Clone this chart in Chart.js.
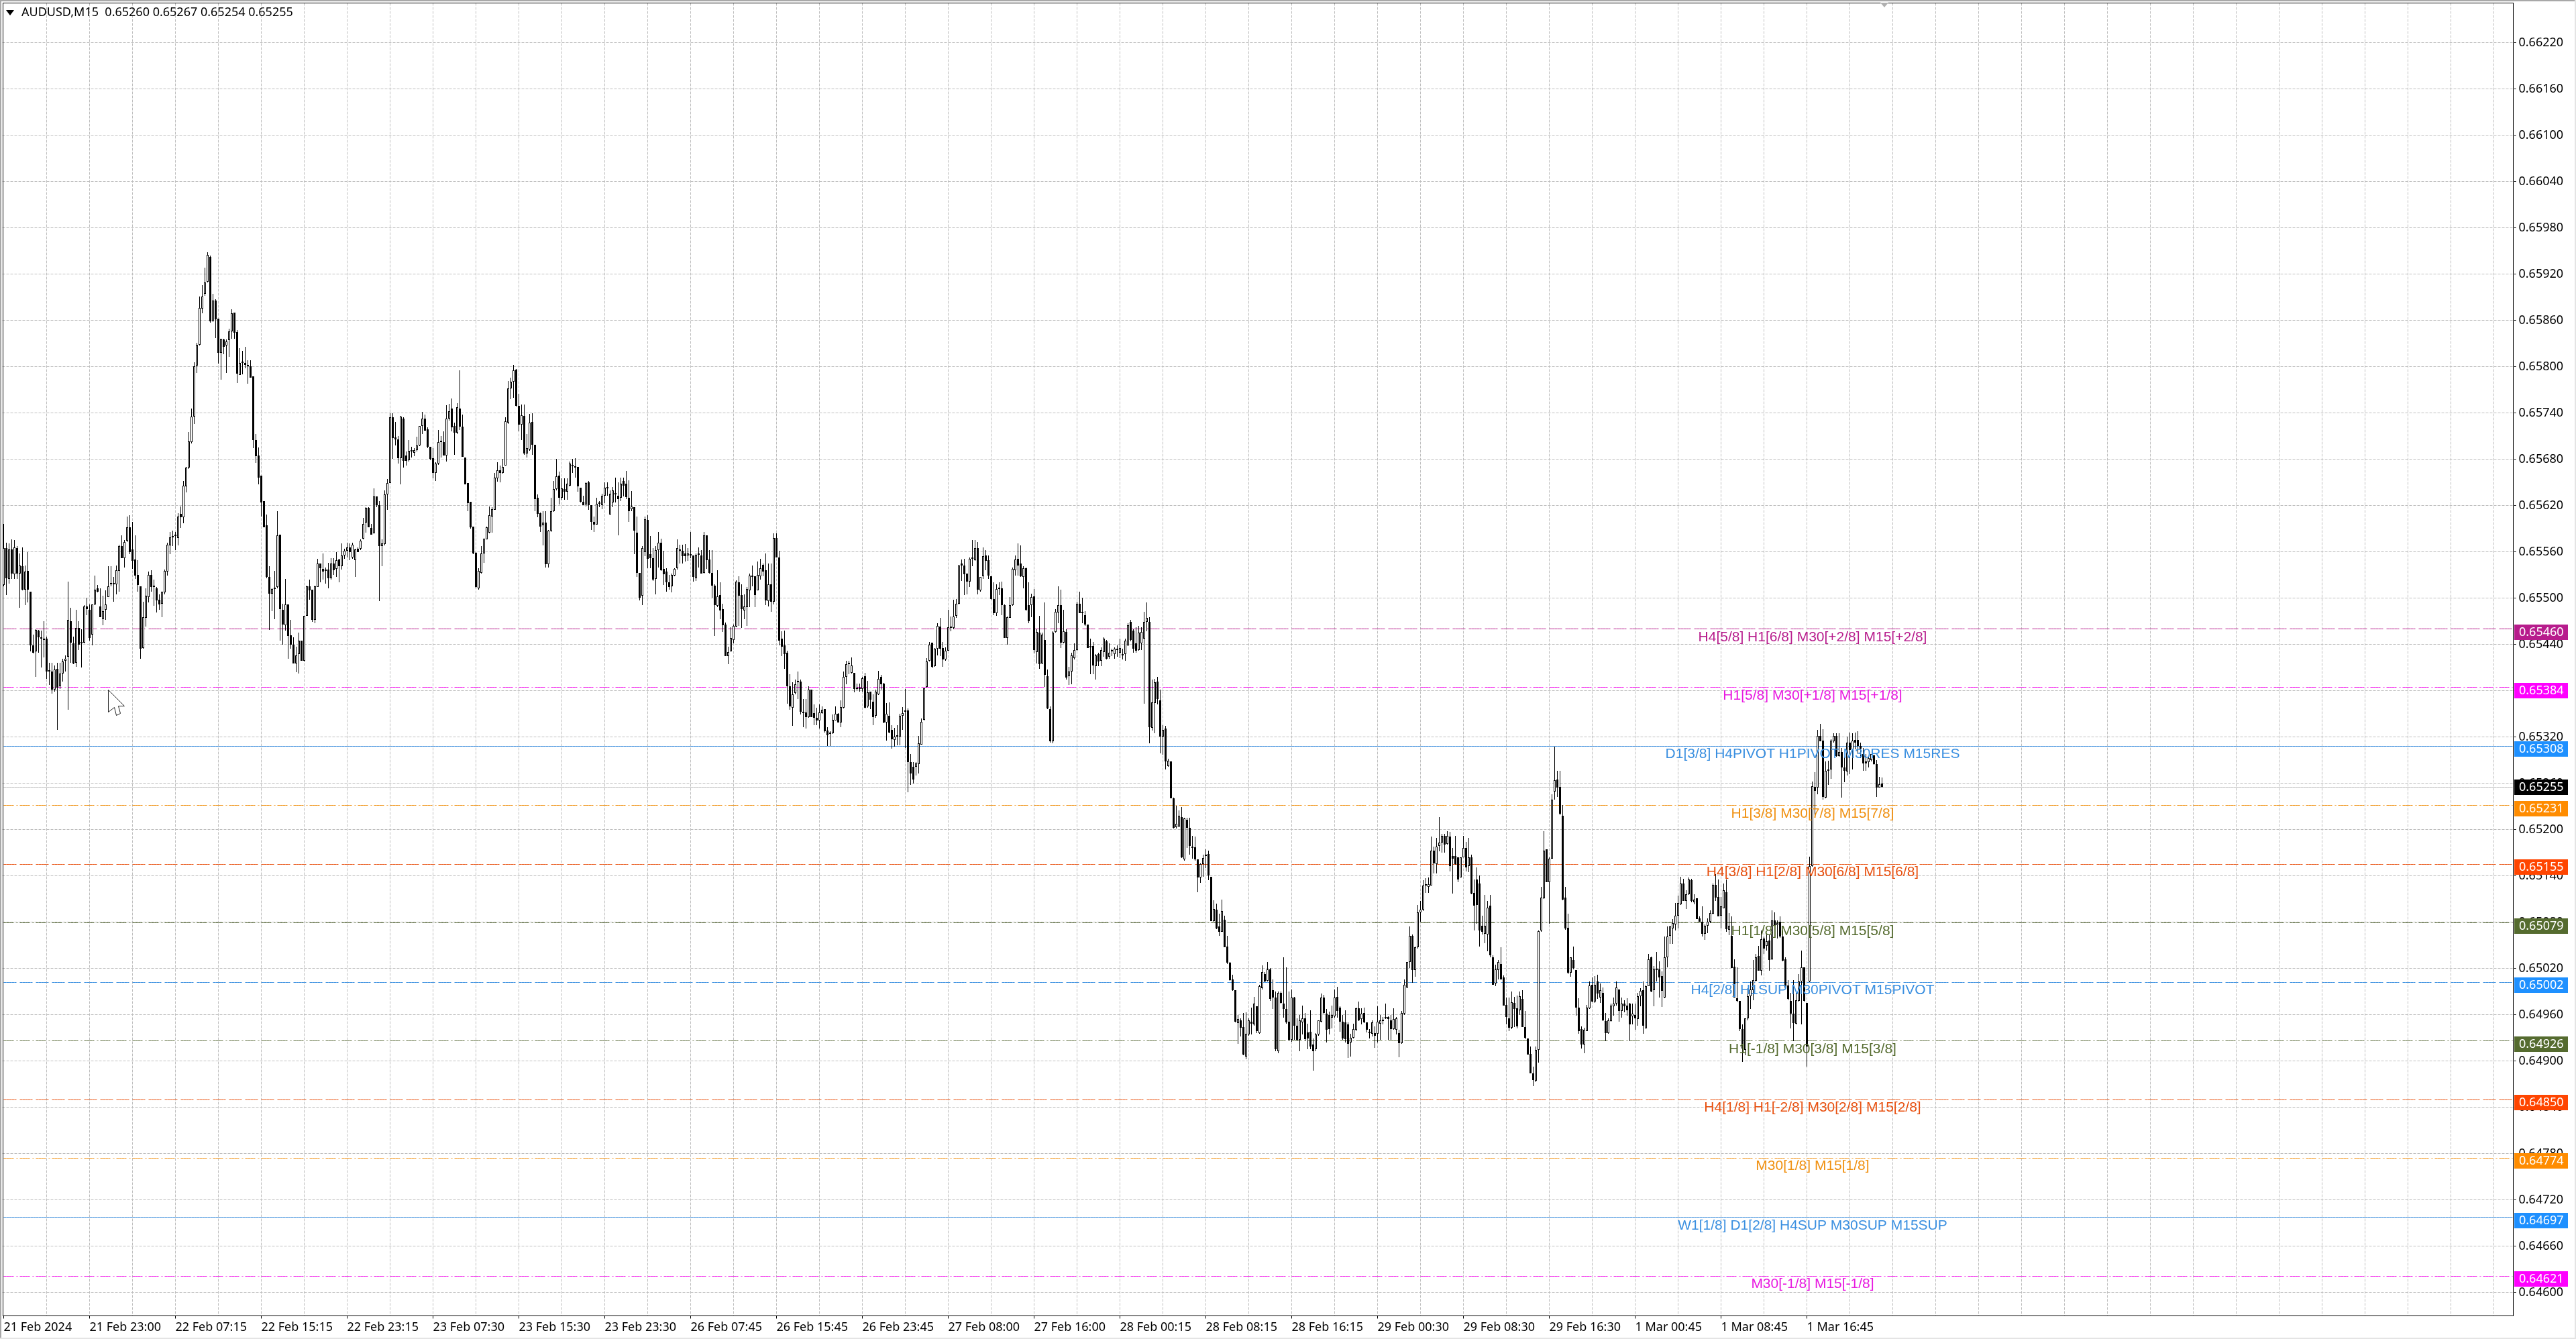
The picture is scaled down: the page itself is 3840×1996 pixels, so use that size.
<!DOCTYPE html>
<html><head><meta charset="utf-8">
<style>html,body{margin:0;padding:0;background:#fff}canvas{display:block}</style>
<script src="https://cdn.jsdelivr.net/npm/chart.js@4/dist/chart.umd.min.js"></script>
</head><body><canvas id="c" width="3840" height="1996" style="width:3840px;height:1996px"></canvas>
<script>
const opens=[65517,65565,65525,65563,65531,65565,65532,65541,65511,65535,
65508,65439,65431,65458,65449,65447,65447,65406,65405,65381,
65408,65386,65402,65419,65424,65470,65441,65416,65461,65442,
65442,65489,65485,65453,65492,65513,65489,65473,65485,65501,
65519,65518,65518,65535,65567,65552,65574,65592,65563,65550,
65530,65515,65435,65474,65501,65530,65515,65513,65498,65493,
65507,65534,65568,65579,65580,65578,65609,65605,65645,65669,
65702,65735,65801,65828,65875,65894,65910,65942,65860,65886,
65862,65818,65835,65827,65834,65846,65870,65845,65789,65805,
65805,65801,65800,65787,65705,65685,65659,65626,65594,65527,
65506,65512,65514,65582,65485,65465,65492,65452,65440,65415,
65427,65445,65419,65477,65515,65511,65472,65514,65545,65538,
65535,65537,65526,65545,65538,65550,65541,65555,65561,65566,
65553,65549,65564,65564,65577,65598,65617,65591,65585,65632,
65620,65567,65570,65634,65649,65734,65708,65706,65681,65733,
65685,65679,65690,65688,65692,65698,65723,65733,65719,65696,
65681,65662,65674,65702,65702,65685,65733,65746,65723,65714,
65746,65722,65682,65649,65625,65593,65559,65513,65533,65558,
65576,65585,65606,65614,65655,65666,65662,65672,65727,65772,
65780,65796,65749,65725,65736,65687,65693,65728,65699,65630,
65610,65594,65598,65544,65587,65613,65641,65659,65630,65641,
65638,65646,65673,65671,65670,65643,65625,65621,65650,65620,
65599,65595,65622,65620,65633,65642,65608,65624,65635,65633,
65630,65652,65648,65630,65615,65618,65585,65533,65503,65560,
65601,65557,65552,65525,65562,65572,65538,65534,65520,65515,
65529,65539,65561,65561,65558,65555,65555,65555,65526,65556,
65555,65533,65581,65550,65533,65516,65490,65504,65486,65466,
65425,65431,65446,65463,65520,65504,65484,65488,65510,65527,
65528,65510,65528,65543,65536,65496,65518,65495,65578,65553,
65447,65439,65429,65386,65358,65377,65391,65392,65353,65352,
65346,65381,65351,65345,65341,65351,65356,65328,65324,65325,
65341,65350,65339,65358,65398,65414,65403,65403,65383,65382,
65382,65399,65360,65379,65366,65347,65375,65398,65389,65339,
65347,65329,65316,65320,65320,65347,65353,65354,65287,65281,
65281,65285,65310,65342,65385,65419,65442,65412,65434,65463,
65435,65420,65432,65461,65461,65477,65493,65545,65542,65532,
65521,65551,65549,65565,65510,65528,65555,65549,65528,65499,
65480,65512,65513,65491,65448,65474,65491,65536,65551,65545,
65527,65539,65491,65491,65502,65430,65455,65415,65446,65399,
65356,65314,65456,65481,65491,65442,65456,65399,65405,65422,
65433,65493,65480,65478,65466,65438,65438,65412,65427,65419,
65430,65444,65424,65431,65427,65433,65429,65427,65427,65439,
65469,65458,65441,65433,65441,65447,65469,65469,65332,65364,
65392,65367,65320,65331,65282,65288,65240,65203,65204,65216,
65161,65213,65202,65178,65177,65161,65138,65155,65166,65168,
65139,65081,65096,65074,65067,65083,65048,65027,65006,64992,
64949,64953,64944,64906,64934,64951,64947,64971,64936,64994,
65013,65004,65019,64992,64982,64913,64988,64974,64967,64951,
64927,64982,64946,64927,64950,64955,64937,64938,64921,64915,
64934,64951,64982,64961,64960,64956,64958,64983,64969,64951,
64950,64947,64924,64930,64940,64968,64954,64962,64950,64936,
64935,64936,64935,64948,64952,64955,64957,64953,64941,64940,
64936,64923,64961,64995,65028,65062,65018,65047,65093,65096,
65127,65126,65127,65173,65155,65179,65183,65192,65181,65191,
65166,65166,65164,65138,65164,65176,65153,65164,65118,65135,
65130,65075,65065,65064,65101,65034,65000,65018,65026,65008,
64973,64955,64943,64975,64968,64966,64980,64944,64929,64909,
64884,64874,64914,65069,65111,65174,65132,65162,65249,65265,
65255,65218,65112,65073,65014,65031,65018,64969,64941,64921,
64939,64968,64999,64977,65003,64982,64988,64952,64936,64952,
64971,64974,64993,64965,64974,64972,64974,64958,64960,64954,
64984,64992,64942,64997,65034,64992,65019,65019,65010,64982,
65034,65062,65072,65077,65088,65103,65130,65107,65116,65134,
65106,65111,65085,65080,65065,65075,65080,65091,65128,65113,
65088,65098,65119,65070,65062,65022,64981,64978,64941,64914,
64955,64984,64992,65004,65036,65017,65059,65049,65056,65032,
65082,65076,65080,65061,65032,64998,64978,64961,64948,64978,
65003,65021,64975,65003,65153,65255,65254,65321,65315,65241,
65276,65278,65314,65321,65295,65300,65280,65275,65313,65304,
65316,65316,65308,65298,65288,65287,65290,65296,65285,65254,
65260];
const highs=[65596,65572,65571,65576,65575,65567,65558,65566,65542,65560,
65508,65453,65460,65459,65458,65470,65450,65416,65416,65413,
65416,65416,65421,65426,65521,65487,65450,65485,65470,65460,
65491,65500,65492,65492,65529,65517,65513,65503,65510,65541,
65541,65527,65542,65569,65581,65575,65606,65607,65599,65581,
65549,65515,65495,65513,65534,65536,65524,65514,65505,65508,
65537,65572,65586,65587,65586,65610,65619,65652,65670,65715,
65746,65806,65831,65891,65906,65928,65948,65944,65894,65887,
65862,65836,65836,65835,65849,65874,65870,65847,65824,65820,
65826,65808,65808,65787,65713,65695,65659,65626,65608,65541,
65513,65535,65613,65582,65493,65525,65492,65472,65449,65437,
65455,65445,65477,65516,65524,65511,65516,65551,65545,65558,
65540,65546,65552,65552,65560,65551,65571,65564,65572,65571,
65572,65564,65566,65576,65604,65618,65618,65596,65642,65632,
65626,65576,65640,65654,65740,65740,65728,65710,65736,65734,
65690,65705,65696,65694,65709,65723,65741,65738,65721,65696,
65694,65676,65718,65710,65716,65750,65752,65759,65727,65753,
65795,65738,65682,65649,65625,65593,65560,65539,65567,65578,
65593,65619,65618,65662,65676,65672,65680,65734,65781,65786,
65802,65797,65765,65751,65751,65713,65739,65740,65699,65634,
65611,65613,65613,65588,65630,65652,65680,65664,65655,65655,
65655,65677,65680,65681,65670,65643,65633,65650,65652,65620,
65606,65630,65626,65635,65650,65650,65640,65644,65656,65650,
65656,65656,65665,65653,65639,65618,65606,65533,65567,65606,
65607,65580,65565,65567,65586,65577,65561,65539,65530,65532,
65539,65576,65569,65569,65570,65565,65586,65555,65558,65566,
65562,65586,65581,65562,65562,65518,65536,65520,65493,65468,
65437,65462,65466,65523,65528,65518,65505,65514,65532,65542,
65528,65547,65551,65545,65558,65545,65545,65584,65584,65561,
65457,65458,65432,65401,65391,65394,65405,65394,65369,65369,
65386,65381,65362,65358,65362,65360,65356,65333,65327,65349,
65360,65351,65367,65405,65419,65419,65423,65403,65389,65389,
65398,65403,65393,65379,65375,65381,65406,65400,65390,65364,
65365,65335,65332,65335,65350,65359,65382,65357,65298,65287,
65287,65321,65344,65383,65422,65443,65442,65435,65467,65474,
65443,65436,65485,65476,65498,65499,65543,65550,65551,65532,
65553,65575,65575,65573,65527,65566,65562,65555,65528,65520,
65518,65520,65521,65492,65476,65501,65540,65555,65571,65568,
65541,65540,65520,65506,65512,65460,65477,65455,65494,65407,
65360,65457,65486,65515,65511,65485,65460,65411,65429,65441,
65495,65508,65500,65483,65466,65447,65443,65427,65429,65436,
65449,65446,65441,65434,65436,65439,65447,65434,65447,65467,
65472,65460,65462,65464,65462,65482,65494,65475,65394,65395,
65398,65381,65335,65334,65292,65288,65241,65231,65225,65229,
65215,65215,65215,65192,65191,65161,65156,65167,65174,65173,
65139,65108,65104,65091,65109,65088,65062,65028,65012,64992,
64960,64955,64962,64963,64955,64969,64983,64971,64999,65024,
65015,65028,65020,65006,64990,64990,64990,65034,65021,64990,
64993,64983,64955,64960,64972,64962,64948,64966,64929,64936,
64953,64987,64986,64967,64964,64972,64993,64996,64971,64960,
64966,64950,64935,64948,64969,64977,64968,64969,64950,64941,
64953,64945,64971,64960,64957,64974,64958,64960,64968,64957,
64940,64965,65006,65028,65074,65064,65048,65102,65107,65134,
65137,65138,65191,65178,65189,65216,65194,65194,65198,65197,
65176,65192,65164,65164,65192,65184,65189,65167,65135,65151,
65140,65088,65115,65107,65115,65037,65025,65031,65047,65011,
64982,64982,64990,64983,64985,64990,64992,64965,64929,64919,
64893,64919,65069,65126,65198,65174,65164,65246,65307,65276,
65276,65232,65126,65091,65034,65048,65018,64981,64945,64943,
64973,65003,65008,65010,65012,65000,64995,64962,64955,64974,
64982,65003,64993,64982,64979,64981,64975,64974,64974,64988,
64994,65003,64998,65039,65035,65023,65041,65029,65016,65061,
65074,65075,65084,65105,65114,65139,65136,65121,65138,65136,
65116,65111,65087,65100,65077,65085,65095,65130,65142,65135,
65113,65130,65135,65092,65087,65032,65021,64978,64947,64955,
64994,65003,65031,65039,65049,65069,65061,65065,65064,65095,
65093,65082,65087,65069,65034,65005,64988,65005,64988,65013,
65043,65021,64975,65165,65262,65274,65329,65337,65330,65288,
65289,65317,65325,65325,65325,65306,65294,65320,65326,65325,
65326,65327,65313,65306,65298,65295,65298,65297,65290,65268,
65267];
const lows=[65515,65504,65519,65525,65525,65525,65487,65510,65491,65494,
65431,65428,65398,65429,65410,65423,65395,65387,65376,65379,
65329,65382,65392,65405,65355,65416,65414,65411,65433,65410,
65441,65478,65445,65439,65491,65507,65475,65465,65472,65501,
65515,65495,65505,65508,65552,65540,65573,65557,65538,65525,
65508,65421,65434,65463,65494,65508,65490,65481,65485,65475,
65505,65529,65557,65567,65562,65568,65591,65597,65637,65667,
65700,65726,65792,65827,65869,65892,65909,65857,65858,65837,
65804,65783,65816,65792,65813,65836,65836,65779,65789,65790,
65798,65778,65786,65694,65675,65647,65606,65592,65526,65459,
65483,65473,65513,65445,65440,65458,65421,65434,65415,65404,
65402,65419,65418,65477,65498,65469,65467,65514,65520,65524,
65519,65513,65524,65530,65527,65520,65537,65551,65553,65549,
65551,65527,65560,65562,65576,65585,65592,65582,65583,65618,
65496,65541,65568,65614,65649,65680,65698,65674,65647,65669,
65672,65677,65682,65684,65690,65697,65713,65717,65694,65679,
65655,65652,65673,65682,65685,65677,65730,65716,65686,65713,
65718,65683,65647,65613,65590,65557,65513,65511,65532,65546,
65577,65584,65585,65614,65651,65650,65661,65672,65726,65758,
65760,65748,65716,65705,65686,65682,65691,65686,65613,65605,
65586,65568,65540,65540,65586,65612,65640,65621,65627,65627,
65627,65645,65662,65656,65638,65624,65620,65619,65614,65588,
65586,65595,65618,65615,65623,65633,65608,65618,65624,65581,
65626,65632,65628,65599,65613,65557,65527,65497,65491,65554,
65539,65539,65522,65505,65540,65535,65517,65508,65511,65507,
65528,65537,65545,65545,65547,65548,65552,65521,65522,65540,
65532,65532,65538,65532,65500,65451,65488,65473,65456,65425,
65414,65431,65441,65462,65464,65461,65473,65464,65488,65515,
65488,65510,65524,65528,65491,65489,65482,65492,65553,65439,
65425,65408,65363,65355,65334,65375,65369,65349,65333,65331,
65345,65346,65335,65335,65331,65350,65326,65308,65308,65324,
65341,65339,65333,65357,65388,65401,65402,65378,65380,65379,
65379,65357,65358,65356,65335,65345,65374,65381,65338,65315,
65325,65305,65307,65309,65309,65329,65306,65248,65258,65260,
65270,65273,65310,65341,65384,65418,65409,65411,65426,65425,
65411,65419,65432,65457,65460,65474,65492,65522,65504,65505,
65514,65541,65548,65505,65508,65525,65536,65525,65498,65478,
65477,65504,65478,65448,65440,65474,65490,65529,65529,65527,
65513,65483,65467,65475,65428,65415,65408,65414,65385,65356,
65313,65312,65455,65467,65435,65441,65394,65387,65388,65420,
65432,65480,65467,65464,65435,65401,65401,65394,65412,65412,
65424,65420,65421,65425,65421,65424,65422,65420,65419,65438,
65444,65429,65429,65432,65433,65363,65457,65312,65328,65325,
65362,65299,65297,65278,65281,65240,65201,65201,65203,65163,
65160,65176,65167,65162,65160,65119,65131,65139,65150,65134,
65081,65080,65071,65062,65067,65047,65026,65004,64991,64950,
64922,64932,64907,64902,64933,64934,64946,64936,64935,64993,
65002,65003,64978,64967,64913,64910,64974,64956,64948,64926,
64925,64927,64926,64913,64934,64926,64915,64915,64887,64913,
64933,64950,64961,64924,64934,64942,64956,64956,64938,64927,
64924,64904,64906,64929,64939,64952,64947,64949,64937,64929,
64932,64917,64924,64927,64947,64954,64927,64927,64940,64934,
64905,64922,64960,64994,65020,65001,65009,65046,65080,65094,
65118,65118,65127,65143,65143,65172,65170,65170,65180,65146,
65117,65154,65132,65138,65164,65146,65145,65116,65069,65078,
65048,65064,65053,65042,65034,64999,64997,65006,65006,64972,
64947,64939,64941,64944,64942,64960,64944,64928,64908,64884,
64867,64873,64898,65067,65110,65132,65078,65162,65239,65242,
65219,65108,65070,65013,65009,65019,64959,64935,64916,64910,
64939,64967,64976,64975,64980,64975,64952,64926,64935,64951,
64959,64972,64951,64956,64963,64959,64926,64947,64940,64946,
64971,64935,64942,64997,64989,64971,65003,64982,64970,64981,
65021,65052,65052,65069,65072,65102,65107,65097,65115,65106,
65103,65084,65080,65061,65057,65066,65079,65090,65107,65087,
65072,65098,65067,65063,65020,64982,64976,64939,64899,64907,
64953,64967,64979,65003,65017,65011,65039,65043,65017,65031,
65062,65059,65060,65029,64994,64979,64942,64926,64947,64977,
64947,64977,64893,65002,65152,65215,65246,65314,65239,65240,
65258,65266,65313,65294,65294,65241,65261,65270,65272,65278,
65304,65298,65293,65276,65276,65280,65288,65284,65242,65254,
65254];
const closes=[65565,65526,65563,65532,65566,65532,65542,65511,65534,65511,
65439,65429,65459,65449,65447,65446,65405,65405,65381,65407,
65384,65402,65418,65421,65472,65442,65415,65461,65440,65441,
65489,65486,65448,65492,65511,65508,65475,65483,65492,65515,
65518,65518,65536,65567,65552,65573,65592,65560,65548,65529,
65517,65434,65475,65503,65530,65514,65514,65497,65492,65508,
65535,65569,65579,65580,65580,65606,65605,65646,65669,65703,
65735,65800,65828,65876,65891,65909,65945,65859,65886,65861,
65818,65836,65826,65833,65846,65869,65844,65791,65805,65805,
65802,65800,65786,65705,65684,65656,65624,65592,65527,65506,
65512,65512,65581,65486,65466,65492,65451,65440,65415,65426,
65445,65419,65477,65515,65510,65472,65515,65545,65539,65534,
65537,65526,65545,65536,65549,65541,65555,65561,65566,65560,
65569,65563,65560,65574,65596,65617,65592,65582,65632,65620,
65567,65571,65634,65649,65734,65707,65706,65681,65735,65678,
65678,65691,65690,65692,65698,65723,65733,65717,65696,65680,
65662,65674,65702,65702,65685,65733,65742,65721,65714,65747,
65722,65683,65647,65623,65592,65558,65514,65535,65558,65576,
65592,65607,65615,65656,65666,65662,65670,65729,65772,65780,
65795,65749,65725,65737,65687,65694,65727,65699,65628,65609,
65593,65598,65544,65587,65613,65641,65658,65630,65642,65638,
65648,65674,65671,65669,65645,65625,65620,65649,65620,65599,
65595,65622,65623,65633,65643,65642,65635,65640,65634,65628,
65648,65646,65631,65613,65619,65587,65533,65500,65565,65602,
65551,65552,65524,65562,65572,65536,65531,65520,65514,65530,
65538,65565,65561,65554,65554,65558,65555,65527,65556,65558,
65532,65581,65549,65533,65516,65491,65502,65484,65465,65425,
65430,65448,65464,65521,65503,65486,65489,65512,65529,65529,
65504,65530,65539,65534,65497,65518,65495,65578,65553,65445,
65437,65427,65386,65360,65375,65388,65391,65353,65351,65346,
65381,65346,65345,65341,65352,65355,65327,65322,65326,65342,
65350,65339,65359,65398,65414,65414,65413,65382,65382,65383,
65396,65358,65378,65368,65346,65379,65395,65388,65339,65350,
65326,65317,65320,65320,65347,65351,65353,65287,65273,65265,
65286,65312,65340,65383,65418,65440,65411,65434,65464,65434,
65420,65432,65462,65463,65476,65493,65542,65542,65531,65521,
65551,65551,65565,65511,65527,65554,65548,65529,65499,65480,
65512,65513,65491,65448,65475,65491,65538,65550,65542,65528,
65539,65485,65470,65501,65433,65456,65414,65453,65400,65357,
65314,65455,65482,65491,65442,65457,65397,65405,65426,65433,
65493,65480,65480,65466,65435,65436,65413,65426,65418,65433,
65447,65421,65429,65431,65434,65433,65435,65426,65445,65465,
65446,65434,65432,65455,65456,65469,65474,65333,65365,65391,
65369,65320,65329,65288,65289,65240,65202,65207,65218,65164,
65214,65202,65179,65176,65161,65138,65155,65163,65166,65140,
65081,65097,65072,65067,65094,65047,65027,65005,64992,64951,
64954,64943,64908,64935,64953,64948,64974,64939,64997,65015,
65003,65019,64980,64982,64915,64988,64975,64967,64950,64927,
64982,64946,64927,64953,64955,64928,64929,64919,64913,64934,
64953,64982,64962,64940,64941,64960,64982,64965,64951,64929,
64928,64922,64930,64941,64968,64953,64961,64950,64940,64936,
64950,64933,64951,64953,64952,64957,64954,64941,64954,64955,
64923,64962,64999,65028,65062,65018,65047,65093,65096,65127,
65128,65129,65173,65156,65178,65183,65192,65180,65192,65153,
65162,65155,65135,65164,65176,65151,65164,65117,65101,65102,
65069,65067,65075,65099,65037,64999,65019,65028,65006,64972,
64957,64943,64976,64967,64945,64984,64944,64930,64908,64884,
64875,64914,65068,65112,65173,65132,65162,65239,65264,65254,
65220,65109,65072,65014,65034,65020,64969,64939,64921,64940,
64969,64998,64977,64999,64987,64992,64953,64936,64953,64972,
64974,64995,64965,64974,64971,64966,64947,64961,64955,64984,
64991,64946,64997,65032,64990,65019,65018,65008,64991,65034,
65061,65074,65079,65088,65105,65130,65107,65116,65135,65107,
65109,65084,65080,65065,65075,65080,65092,65128,65112,65087,
65100,65121,65071,65075,65020,64982,64978,64941,64916,64955,
64984,64993,65005,65034,65017,65058,65046,65055,65031,65082,
65075,65079,65061,65030,64995,64980,64961,64949,64979,65003,
65021,64978,64919,65153,65256,65250,65321,65314,65242,65276,
65276,65315,65321,65295,65300,65280,65276,65313,65303,65315,
65313,65308,65305,65286,65286,65293,65298,65285,65254,65259,
65255];
const xTickLabels=["21 Feb 2024","21 Feb 23:00","22 Feb 07:15","22 Feb 15:15","22 Feb 23:15","23 Feb 07:30","23 Feb 15:30","23 Feb 23:30","26 Feb 07:45","26 Feb 15:45","26 Feb 23:45","27 Feb 08:00","27 Feb 16:00","28 Feb 00:15","28 Feb 08:15","28 Feb 16:15","29 Feb 00:30","29 Feb 08:30","29 Feb 16:30","1 Mar 00:45","1 Mar 08:45","1 Mar 16:45"];
const yTickValues=[0.66220,0.66160,0.66100,0.66040,0.65980,0.65920,0.65860,0.65800,0.65740,0.65680,0.65620,0.65560,0.65500,0.65440,0.65380,0.65320,0.65260,0.65200,0.65140,0.65080,0.65020,0.64960,0.64900,0.64840,0.64780,0.64720,0.64660,0.64600];
const levelPrices=[0.65460,0.65384,0.65308,0.65255,0.65231,0.65155,0.65079,0.65002,0.64926,0.64850,0.64774,0.64697,0.64621];
const levelColors=["#B71C8C","#F010E8","#3F8FDC","#C0C0C0","#F09010","#E8500F","#5F6F3F","#3A8FE0","#5F6F3F","#E8500F","#F09010","#3F8FDC","#F010E8"];
const tagColors=["#B71C8C","#FF00FF","#1E90FF","#000000","#FF8C00","#FF4500","#556B2F","#1E90FF","#556B2F","#FF4500","#FF8C00","#1E90FF","#FF00FF"];
const textColors=["#B71C8C","#E818E0","#3A8FE0",null,"#F09010","#E8500F","#556B2F","#3A8FE0","#556B2F","#E8500F","#F09010","#3A8FE0","#E818E0"];
const levelDashes=[[19,5],[15,4,2,3],[],[],[15,4,2,3],[19,5],[15,4,2,3],[19,5],[15,4,2,3],[19,5],[15,4,2,3],[],[15,4,2,3]];
const levelTexts=["H4[5/8] H1[6/8] M30[+2/8] M15[+2/8]","H1[5/8] M30[+1/8] M15[+1/8]","D1[3/8] H4PIVOT H1PIVOT M30RES M15RES","","H1[3/8] M30[7/8] M15[7/8]","H4[3/8] H1[2/8] M30[6/8] M15[6/8]","H1[1/8] M30[5/8] M15[5/8]","H4[2/8] H1SUP M30PIVOT M15PIVOT","H1[-1/8] M30[3/8] M15[3/8]","H4[1/8] H1[-2/8] M30[2/8] M15[2/8]","M30[1/8] M15[1/8]","W1[1/8] D1[2/8] H4SUP M30SUP M15SUP","M30[-1/8] M15[-1/8]"];
const headerText="AUDUSD,M15  0.65260 0.65267 0.65254 0.65255";
const SLOTS=936, PX=115000;
const yTop=0.6622+59/PX, yBottom=yTop-1957/PX;
const categories=Array.from({length:SLOTS},(_,i)=>i%32===0?(xTickLabels[i/32]||''):'');
const wicks=lows.map((l,i)=>[l/1e5,highs[i]/1e5]);
const bodies=opens.map((o,i)=>[o/1e5,closes[i]/1e5]);
const bodyFill=opens.map((o,i)=>closes[i]>=o?'#ffffff':'#000000');
const levelSets=levelPrices.map((p,k)=>({type:'line',data:Array(SLOTS).fill(p),borderColor:levelColors[k],borderWidth:1,borderDash:levelDashes[k],pointRadius:0,order:3,fill:false,tension:0}));
const snap={id:'snap',afterDatasetsUpdate(ch){
  ch.data.datasets.forEach((ds,n)=>{const m=ch.getDatasetMeta(n);
   if(ds.type==='line'){m.data.forEach(p=>{p.y=Math.floor(p.y)+0.5;});}
   else{const min=n===ch.data.datasets.length-1?2:1;m.data.forEach(b=>{
     const t=Math.round(Math.min(b.y,b.base));let u=Math.round(Math.max(b.y,b.base));if(u-t<min)u=t+min;
     b.y=t;b.base=u;b.height=u-t;});}
  });}};
const decor={id:'decor',
 afterDraw(ch){const c=ch.ctx,y=ch.scales.y;c.save();
  c.textAlign='center';c.textBaseline='middle';c.font='21px "Liberation Sans"';
  levelPrices.forEach((p,k)=>{if(!levelTexts[k])return;c.fillStyle=textColors[k];c.fillText(levelTexts[k],2702,Math.round(y.getPixelForValue(p))+12);});
  c.strokeStyle='#000';c.lineWidth=1;c.strokeRect(4.5,4.5,3742,1957);
  c.fillStyle='#A8A8A8';c.fillRect(0,0,3840,2);c.fillRect(0,0,2,1996);
  c.fillStyle='#E4E4E4';c.fillRect(0,1994,3840,2);c.fillRect(3838,0,2,1996);
  c.textAlign='left';c.font='18px "Noto Sans"';
  levelPrices.forEach((p,k)=>{const py=Math.round(y.getPixelForValue(p));const top=k===3?py-11:py-7;
   c.fillStyle=tagColors[k];c.fillRect(3748,top,80,23);c.fillStyle='#fff';c.fillText(p.toFixed(5),3755,top+12);});
  c.fillStyle='#000';c.beginPath();c.moveTo(9,15);c.lineTo(21,15);c.lineTo(15,23);c.closePath();c.fill();
  c.font='18px "Noto Sans"';c.fillText(headerText,32,19);
  c.fillStyle='#B0B0B0';c.beginPath();c.moveTo(2803,4);c.lineTo(2815,4);c.lineTo(2809,11);c.closePath();c.fill();
  c.fillStyle='#fff';c.strokeStyle='#222';c.beginPath();c.moveTo(161.5,1028.5);c.lineTo(185.5,1052.5);c.lineTo(176.5,1052.5);c.lineTo(179.5,1063.5);c.lineTo(173.5,1066.5);c.lineTo(170.5,1054.5);c.lineTo(161.5,1061.5);c.closePath();c.fill();c.stroke();
  c.restore();}};
new Chart(document.getElementById('c'),{type:'bar',plugins:[snap,decor],
 data:{labels:categories,datasets:[
  ...levelSets,
  {type:'bar',data:wicks,backgroundColor:'#000',borderWidth:0,barThickness:1,grouped:false,inflateAmount:0,order:2},
  {type:'bar',data:bodies,backgroundColor:bodyFill,borderColor:'#000',borderWidth:1,borderSkipped:false,barThickness:3,grouped:false,inflateAmount:0,minBarLength:2,order:1}
 ]},
 options:{responsive:false,devicePixelRatio:1,animation:false,events:[],
  layout:{padding:{left:3.5,top:4.5,right:0,bottom:0}},
  plugins:{legend:{display:false},tooltip:{enabled:false},title:{display:false}},
  scales:{
   x:{type:'category',offset:true,
    grid:{offset:false,color:c=>c.index===0?'rgba(0,0,0,0)':'#BEBEBE',lineWidth:1,tickLength:4,tickColor:c=>(c.index%2===0&&c.index/2<xTickLabels.length)?'#000':'rgba(0,0,0,0)'},
    border:{display:false,dash:[4,2]},
    ticks:{autoSkip:false,maxRotation:0,minRotation:0,align:'start',padding:3,color:'#000',font:{family:'"Noto Sans"',size:18}},
    afterBuildTicks:a=>{a.ticks=a.ticks.filter(t=>t.value%16===0);},
    afterFit:a=>{a.height=34.5;a.paddingLeft=0;a.paddingRight=0;}},
   y:{type:'linear',position:'right',min:yBottom,max:yTop,
    grid:{color:'#BEBEBE',lineWidth:1,tickLength:3,tickColor:'#000'},
    border:{display:false,dash:[4,2]},
    ticks:{padding:4,color:'#000',font:{family:'"Noto Sans"',size:18},crossAlign:'near',callback:v=>Number(v).toFixed(5)},
    afterBuildTicks:a=>{a.ticks=yTickValues.map(v=>({value:v}));},
    afterFit:a=>{a.width=92.5;a.paddingTop=0;a.paddingBottom=0;}}
  }}});
</script></body></html>
